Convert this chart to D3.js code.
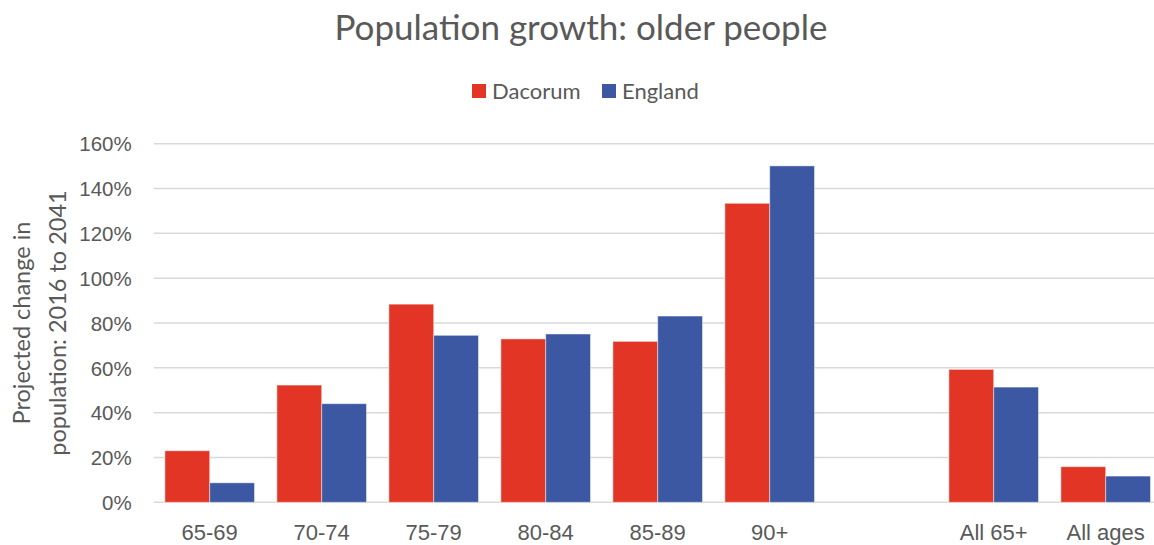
<!DOCTYPE html>
<html>
<head>
<meta charset="utf-8">
<script src="https://cdn.jsdelivr.net/npm/d3@7"></script>
<style>
    body { margin: 0; background: #fff; }
    svg { display: block; font-family: Lato, "Open Sans", sans-serif; }
    .axis text { fill: #595959; }
</style>
</head>
<body>
<svg width="1154" height="545"></svg>
<script>
var categories = ["65-69", "70-74", "75-79", "80-84", "85-89", "90+", "", "All 65+", "All ages"];
var seriesNames = ["Dacorum", "England"];
var dacorum = [0.23, 0.523, 0.884, 0.729, 0.718, 1.334, null, 0.593, 0.159];
var england = [0.087, 0.44, 0.745, 0.751, 0.831, 1.501, null, 0.514, 0.117];
var yTicks = [0, 0.2, 0.4, 0.6, 0.8, 1.0, 1.2, 1.4, 1.6];
var colors = ["#E33526", "#3C58A3"];

var svg = d3.select("svg"),
    plotLeft = 153.7,
    plotRight = 1161.7,
    plotTop = 143.7,
    plotBottom = 502.3;

// keys must be unique for the band scale, so index them
var keys = categories.map(function (c, i) { return i; });

var x = d3.scaleBand()
    .domain(keys)
    .range([plotLeft, plotRight])
    .paddingInner(0.2)
    .paddingOuter(0.1);

var x1 = d3.scaleBand()
    .domain(seriesNames)
    .range([0, x.bandwidth()]);

var y = d3.scaleLinear()
    .domain([0, 1.6])
    .range([plotBottom, plotTop]);

// title
svg.append("text")
    .attr("x", 581)
    .attr("y", 40)
    .attr("text-anchor", "middle")
    .attr("fill", "#595959")
    .style("font-size", "35px")
    .text("Population growth: older people");

// gridlines
svg.append("g")
    .selectAll("line")
    .data(yTicks)
    .enter().append("line")
    .attr("x1", plotLeft)
    .attr("x2", 1154)
    .attr("y1", function (d) { return y(d); })
    .attr("y2", function (d) { return y(d); })
    .attr("stroke", "#D9D9D9")
    .attr("stroke-width", 1.5);

// y axis labels
var yAxis = svg.append("g")
    .attr("class", "axis")
    .attr("transform", "translate(" + plotLeft + ",0)")
    .call(d3.axisLeft(y).tickValues(yTicks).tickFormat(d3.format(".0%")).tickSize(0).tickPadding(22));
yAxis.select(".domain").remove();
yAxis.selectAll("text").style("font-size", "20.5px").attr("dy", "0.35em");

// x axis labels
var xAxis = svg.append("g")
    .attr("class", "axis")
    .attr("transform", "translate(0," + plotBottom + ")")
    .call(d3.axisBottom(x).tickFormat(function (i) { return categories[i]; }).tickSize(0));
xAxis.select(".domain").remove();
xAxis.selectAll("text").style("font-size", "22px").attr("y", 37.5).attr("dy", 0);

// bars
var rows = categories.map(function (c, i) {
    return {key: i, values: [dacorum[i], england[i]]};
});

svg.append("g")
    .selectAll("g")
    .data(rows)
    .enter().append("g")
    .attr("transform", function (d) { return "translate(" + x(d.key) + ",0)"; })
    .selectAll("rect")
    .data(function (d) {
        return d.values.map(function (v, j) { return {name: seriesNames[j], value: v, j: j}; })
            .filter(function (e) { return e.value !== null; });
    })
    .enter().append("rect")
    .attr("x", function (d) { return x1(d.name); })
    .attr("y", function (d) { return y(d.value); })
    .attr("width", x1.bandwidth())
    .attr("height", function (d) { return plotBottom - y(d.value); })
    .attr("fill", function (d) { return colors[d.j]; })
    .attr("stroke", "rgba(255,255,255,0.45)")
    .attr("stroke-width", 1);

// y axis title
var yTitle = svg.append("text")
    .attr("transform", "translate(30," + ((plotTop + plotBottom) / 2) + ") rotate(-90)")
    .attr("text-anchor", "middle")
    .attr("fill", "#595959")
    .style("font-size", "23.5px");
yTitle.append("tspan").attr("x", 0).attr("dy", 0).text("Projected change in");
yTitle.append("tspan").attr("x", 0).attr("dy", 36).text("population: 2016 to 2041");

// legend
var legendX = [472, 602];
var legend = svg.append("g")
    .selectAll("g")
    .data(seriesNames)
    .enter().append("g")
    .attr("transform", function (d, i) { return "translate(" + legendX[i] + ",84)"; });
legend.append("rect")
    .attr("width", 14)
    .attr("height", 14)
    .attr("fill", function (d, i) { return colors[i]; });
legend.append("text")
    .attr("x", 20)
    .attr("y", 7)
    .attr("dy", "0.35em")
    .attr("fill", "#595959")
    .style("font-size", "22px")
    .text(function (d) { return d; });
</script>
</body>
</html>
